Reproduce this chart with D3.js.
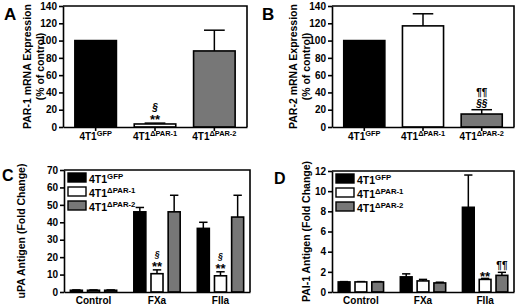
<!DOCTYPE html>
<html>
<head>
<meta charset="utf-8">
<script src="https://cdn.jsdelivr.net/npm/d3@7"></script>
<style>
  body { margin: 0; background: #fff; }
  svg text { font-family: "Liberation Sans", Arial, sans-serif; font-weight: bold; fill: #000; }
</style>
</head>
<body>
<svg id="chart" width="520" height="308"></svg>
<script>
// cell lines (superscripts on "4T1")
const lines = ["GFP", "\u0394PAR-1", "\u0394PAR-2"];
const lineFills = ["#000000", "#ffffff", "#777777"];

// panel A / B: mRNA expression (% of control)
const par1Values = [100, 3.5, 88];
const par1Errors = [0, 1, 24];
const par2Values = [100, 117, 15];
const par2Errors = [0, 14, 5];
const mrnaTicks = [0, 20, 40, 60, 80, 100, 120, 140];

// panel C / D: antigen (fold change)
const treatments = ["Control", "FXa", "FIIa"];
const upaGFP = [1, 46, 36.5];
const upaGFPErr = [0.2, 2.5, 3.5];
const upaPAR1 = [1, 10.5, 9.3];
const upaPAR1Err = [0.2, 2.2, 2.3];
const upaPAR2 = [1, 46, 43];
const upaPAR2Err = [0.2, 9.5, 12.5];
const upaTicks = [0, 10, 20, 30, 40, 50, 60, 70];

const pai1GFP = [1, 1.5, 8.4];
const pai1GFPErr = [0.03, 0.3, 3.2];
const pai1PAR1 = [1, 1.1, 1.25];
const pai1PAR1Err = [0.03, 0.15, 0.1];
const pai1PAR2 = [1, 0.9, 1.65];
const pai1PAR2Err = [0.03, 0.07, 0.3];
const paiTicks = [0, 2, 4, 6, 8, 10, 12];

const svg = d3.select("#chart");

function styleAxis(g) {
    g.attr("font-family", null).attr("font-size", null);
    g.selectAll("path.domain").attr("stroke", "#000").attr("stroke-width", 1.6);
    g.selectAll("line").attr("stroke", "#000").attr("stroke-width", 1.6);
    g.selectAll("text").style("font-size", "10px").attr("fill", "#000");
}

function cellLabel(sel, sup, x, y, size, anchor) {
    const t = sel.append("text")
        .attr("x", x).attr("y", y)
        .attr("text-anchor", anchor)
        .style("font-size", size + "px");
    t.append("tspan").text("4T1");
    t.append("tspan").attr("dy", -size * 0.38).style("font-size", (size * 0.74) + "px").text(sup);
    return t;
}

function frame(g, box, y, ticks, letter, titleLines, letterPos, titleX, letterSize) {
    const yAxis = g.append("g")
        .attr("transform", `translate(${box.left},0)`)
        .call(d3.axisLeft(y).tickValues(ticks).tickSize(4).tickPadding(2).tickSizeOuter(0));
    styleAxis(yAxis);

    g.append("path")
        .attr("d", `M${box.left},${box.top}H${box.right}V${box.bottom}`)
        .attr("fill", "none").attr("stroke", "#000").attr("stroke-width", 1.6);

    g.append("text")
        .attr("x", letterPos[0]).attr("y", letterPos[1])
        .style("font-size", letterSize + "px").text(letter);

    const midY = (box.top + box.bottom) / 2;
    titleLines.forEach((line, i) => {
        g.append("text")
            .attr("transform", `translate(${titleX[i]},${midY}) rotate(-90)`)
            .attr("text-anchor", "middle")
            .style("font-size", "10.5px")
            .text(line);
    });
}

function errorBar(g, cx, y0, y1, half) {
    g.append("line").attr("x1", cx).attr("x2", cx).attr("y1", y0).attr("y2", y1)
        .attr("stroke", "#000").attr("stroke-width", 1.5);
    g.append("line").attr("x1", cx - half).attr("x2", cx + half).attr("y1", y1).attr("y2", y1)
        .attr("stroke", "#000").attr("stroke-width", 1.5);
}

function mark(g, x, y, m) {
    g.append("text").attr("x", x).attr("y", y)
        .attr("text-anchor", "middle").style("font-size", m.size + "px")
        .style("font-style", m.italic ? "italic" : "normal").text(m.text);
}

// ---- panels A and B ----
function mrnaPanel(box, values, errors, letter, titleLines, letterPos, titleX, marks) {
    const g = svg.append("g");
    const y = d3.scaleLinear().domain([0, 140]).range([box.bottom, box.top]);
    const x = d3.scaleBand().domain(lines).range([box.left, box.right])
        .paddingInner(0.3).paddingOuter(0.2);

    lines.forEach((c, i) => {
        const cx = x(c) + x.bandwidth() / 2;
        if (errors[i] > 0) errorBar(g, cx, y(values[i]), y(values[i] + errors[i]), x.bandwidth() * 0.25);
        g.append("rect")
            .attr("x", x(c)).attr("width", x.bandwidth())
            .attr("y", y(values[i])).attr("height", y(0) - y(values[i]))
            .attr("fill", lineFills[i]).attr("stroke", "#000").attr("stroke-width", 1.6);
    });

    const xAxis = g.append("g")
        .attr("transform", `translate(0,${box.bottom})`)
        .call(d3.axisBottom(x).tickSize(4).tickSizeOuter(0).tickFormat(""));
    styleAxis(xAxis);
    lines.forEach(c => cellLabel(g, c, x(c) + x.bandwidth() / 2, box.bottom + 13, 10, "middle"));

    marks.forEach(m => {
        const i = lines.indexOf(m.cat);
        mark(g, x(m.cat) + x.bandwidth() / 2, y(values[i] + errors[i]) - m.dy, m);
    });

    frame(g, box, y, mrnaTicks, letter, titleLines, letterPos, titleX, 17);
}

mrnaPanel({ left: 63, right: 247, top: 6, bottom: 127 }, par1Values, par1Errors, "A",
    ["PAR-1 mRNA Expression", "(% of control)"], [4, 20], [31, 44],
    [{ cat: lines[1], text: "**", dy: -1, size: 13 }, { cat: lines[1], text: "\u00a7", dy: 12, size: 10, italic: true }]);

mrnaPanel({ left: 332, right: 514, top: 6, bottom: 127 }, par2Values, par2Errors, "B",
    ["PAR-2 mRNA Expression", "(% of control)"], [262, 20], [297, 310],
    [{ cat: lines[2], text: "\u00a7\u00a7", dy: 3, size: 10, italic: true }, { cat: lines[2], text: "\u00b6\u00b6", dy: 14, size: 10 }]);

// ---- panels C and D ----
function antigenPanel(box, domainMax, ticks, series, errs, letter, title, letterPos, titleX, marks) {
    const g = svg.append("g");
    const y = d3.scaleLinear().domain([0, domainMax]).range([box.bottom, box.top]);
    const x0 = d3.scaleBand().domain(treatments).range([box.left, box.right])
        .paddingInner(0.27).paddingOuter(0.1);
    const x1 = d3.scaleBand().domain(lines).range([0, x0.bandwidth()]).paddingInner(0.3);

    treatments.forEach((t, ti) => {
        lines.forEach((c, li) => {
            const v = series[li][ti], e = errs[li][ti];
            const bx = x0(t) + x1(c);
            const cx = bx + x1.bandwidth() / 2;
            errorBar(g, cx, y(v), y(v + e), x1.bandwidth() * 0.35);
            g.append("rect")
                .attr("x", bx).attr("width", x1.bandwidth())
                .attr("y", y(v)).attr("height", y(0) - y(v))
                .attr("fill", lineFills[li]).attr("stroke", "#000").attr("stroke-width", 1.6);
        });
    });

    const xAxis = g.append("g")
        .attr("transform", `translate(0,${box.bottom})`)
        .call(d3.axisBottom(x0).tickSize(0).tickPadding(5).tickSizeOuter(0));
    styleAxis(xAxis);

    marks.forEach(m => {
        const li = lines.indexOf(m.cat), ti = treatments.indexOf(m.treat);
        const top = series[li][ti] + errs[li][ti];
        mark(g, x0(m.treat) + x1(m.cat) + x1.bandwidth() / 2, y(top) - m.dy, m);
    });

    // legend
    const lg = g.append("g");
    lines.forEach((c, i) => {
        const ly = box.top + 3 + i * 14;
        lg.append("rect").attr("x", box.left + 4).attr("y", ly).attr("width", 18).attr("height", 9)
            .attr("fill", lineFills[i]).attr("stroke", "#000").attr("stroke-width", 1.4);
        cellLabel(lg, c, box.left + 25, ly + 10, 10.5, "start");
    });

    frame(g, box, y, ticks, letter, [title], letterPos, titleX, 16);
}

antigenPanel({ left: 64, right: 250, top: 170, bottom: 292 }, 70, upaTicks,
    [upaGFP, upaPAR1, upaPAR2], [upaGFPErr, upaPAR1Err, upaPAR2Err],
    "C", "uPA Antigen (Fold Change)", [2, 181], [25],
    [{ cat: lines[1], treat: "FXa", text: "**", dy: -1, size: 13 },
     { cat: lines[1], treat: "FXa", text: "\u00a7", dy: 12.5, size: 8.5, italic: true },
     { cat: lines[1], treat: "FIIa", text: "**", dy: -1, size: 13 },
     { cat: lines[1], treat: "FIIa", text: "\u00a7", dy: 12.5, size: 8.5, italic: true }]);

antigenPanel({ left: 332, right: 514, top: 171, bottom: 292 }, 12, paiTicks,
    [pai1GFP, pai1PAR1, pai1PAR2], [pai1GFPErr, pai1PAR1Err, pai1PAR2Err],
    "D", "PAI-1 Antigen (Fold Change)", [274, 184], [310],
    [{ cat: lines[1], treat: "FIIa", text: "**", dy: -3, size: 13 },
     { cat: lines[2], treat: "FIIa", text: "\u00b6\u00b6", dy: 3, size: 10 }]);
</script>
</body>
</html>
